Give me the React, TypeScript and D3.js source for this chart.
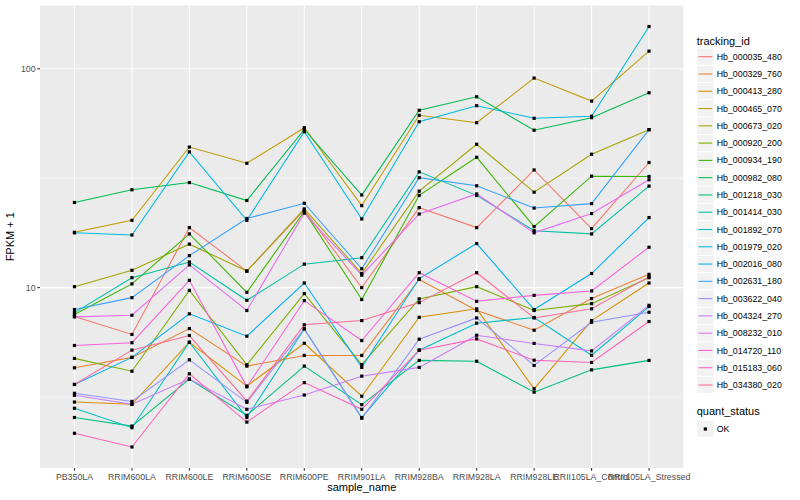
import * as d3 from "d3";

// x categories
const sampleNames = [
  "PB350LA",
  "RRIM600LA",
  "RRIM600LE",
  "RRIM600SE",
  "RRIM600PE",
  "RRIM901LA",
  "RRIM928BA",
  "RRIM928LA",
  "RRIM928LE",
  "RRII105LA_Control",
  "RRII105LA_Stressed",
];

const trackingIds = [
  "Hb_000035_480",
  "Hb_000329_760",
  "Hb_000413_280",
  "Hb_000465_070",
  "Hb_000673_020",
  "Hb_000920_200",
  "Hb_000934_190",
  "Hb_000982_080",
  "Hb_001218_030",
  "Hb_001414_030",
  "Hb_001892_070",
  "Hb_001979_020",
  "Hb_002016_080",
  "Hb_002631_180",
  "Hb_003622_040",
  "Hb_004324_270",
  "Hb_008232_010",
  "Hb_014720_110",
  "Hb_015183_060",
  "Hb_034380_020",
];

// FPKM + 1, one array per gene, in sampleNames order
const hb000035_480 = [7.38, 6.11, 18.8, 11.9, 22.6, 10.0, 23.2, 18.8, 34.5, 18.6, 37.3];
const hb000329_760 = [4.3, 4.8, 6.5, 4.38, 4.9, 4.9, 10.9, 7.86, 6.39, 8.91, 11.5];
const hb000413_280 = [3.0, 2.93, 5.63, 3.55, 5.57, 3.19, 7.32, 8.0, 3.45, 7.07, 10.5];
const hb000465_070 = [17.9, 20.3, 43.9, 37.0, 53.8, 23.7, 61.3, 56.7, 90.7, 71.2, 120.4];
const hb000673_020 = [10.1, 12.0, 15.8, 11.9, 22.9, 11.6, 27.6, 45.2, 27.3, 40.7, 52.7];
const hb000920_200 = [4.75, 4.15, 9.72, 4.44, 9.39, 4.45, 8.88, 10.1, 7.86, 8.45, 11.1];
const hb000934_190 = [7.53, 10.4, 17.6, 9.52, 22.3, 8.82, 26.4, 39.4, 19.0, 32.3, 32.2];
const hb000982_080 = [24.5, 28.0, 30.2, 25.0, 52.8, 26.5, 64.6, 74.5, 52.4, 59.8, 77.7];
const hb001218_030 = [2.55, 2.33, 3.82, 2.61, 4.38, 2.92, 4.65, 4.61, 3.33, 4.21, 4.65];
const hb001414_030 = [7.69, 11.1, 13.1, 8.75, 12.8, 13.7, 33.8, 26.4, 18.2, 17.6, 29.1];
const hb001892_070 = [2.81, 2.29, 5.63, 2.55, 6.48, 2.55, 5.18, 6.88, 7.3, 4.91, 8.19];
const hb001979_020 = [17.8, 17.4, 41.7, 20.3, 51.6, 20.6, 57.3, 67.8, 59.4, 60.7, 156];
const hb002016_080 = [3.61, 4.8, 7.59, 6.0, 10.5, 4.32, 11.0, 15.9, 7.94, 11.6, 20.9];
const hb002631_180 = [7.94, 9.0, 14.0, 20.7, 24.3, 12.2, 31.8, 29.2, 23.1, 24.2, 52.7];
const hb003622_040 = [3.29, 3.02, 4.68, 2.99, 6.48, 2.53, 5.81, 7.27, 4.41, 6.95, 7.72];
const hb004324_270 = [3.22, 2.93, 3.82, 2.78, 3.23, 3.94, 4.32, 6.06, 5.56, 5.14, 8.3];
const hb008232_010 = [7.35, 7.48, 12.7, 7.86, 21.9, 11.4, 21.7, 26.8, 17.8, 21.8, 31.1];
const hb014720_110 = [5.44, 5.6, 10.8, 3.52, 8.72, 5.73, 11.7, 8.66, 9.22, 9.66, 15.3];
const hb015183_060 = [2.16, 1.87, 4.04, 2.43, 3.68, 2.78, 5.18, 5.83, 4.66, 4.55, 7.0];
const hb034380_020 = [3.61, 5.18, 6.04, 3.03, 6.76, 7.07, 8.54, 11.7, 7.27, 8.0, 11.2];

const seriesValues = [
  hb000035_480, hb000329_760, hb000413_280, hb000465_070, hb000673_020,
  hb000920_200, hb000934_190, hb000982_080, hb001218_030, hb001414_030,
  hb001892_070, hb001979_020, hb002016_080, hb002631_180, hb003622_040,
  hb004324_270, hb008232_010, hb014720_110, hb015183_060, hb034380_020,
];

// R's hcl() (polar Luv) so the colours match ggplot's default hue palette
function hcl(h: number, c: number, l: number) {
  const rad = (h * Math.PI) / 180;
  const U = c * Math.cos(rad);
  const V = c * Math.sin(rad);
  const Y = 100 * (l > 7.999592 ? Math.pow((l + 16) / 116, 3) : l / 903.3);
  const u = U / (13 * l) + 0.1978398;
  const v = V / (13 * l) + 0.4683363;
  const X = (9 * Y * u) / (4 * v);
  const Z = -X / 3 - 5 * Y + (3 * Y) / v;
  const g = (x: number) => {
    const y = x > 0.00304 ? 1.055 * Math.pow(x, 1 / 2.4) - 0.055 : 12.92 * x;
    return Math.round(Math.max(0, Math.min(1, y)) * 255);
  };
  const r = g((3.240479 * X - 1.53715 * Y - 0.498535 * Z) / 100);
  const gg = g((-0.969256 * X + 1.875992 * Y + 0.041556 * Z) / 100);
  const b = g((0.055648 * X - 0.204043 * Y + 1.057311 * Z) / 100);
  return d3.rgb(r, gg, b).formatHex();
}

const W = 800;
const H = 500;
const panel = { left: 40, right: 683.5, top: 5.5, bottom: 468 };
const font = "'Liberation Sans', Arial, Helvetica, sans-serif";

export default function App() {
  const n = trackingIds.length;
  const colors = trackingIds.map((_, i) => hcl(15 + (360 / n) * i, 100, 65));

  const x = d3
    .scalePoint<string>()
    .domain(sampleNames)
    .range([panel.left, panel.right])
    .padding(0.6);

  // ggplot: log10 scale with 5% expansion
  const all = seriesValues.flat();
  const lo = Math.log10(d3.min(all)!);
  const hi = Math.log10(d3.max(all)!);
  const pad = (hi - lo) * 0.05;
  const y = d3
    .scaleLog()
    .domain([Math.pow(10, lo - pad), Math.pow(10, hi + pad)])
    .range([panel.bottom, panel.top]);

  const majors = [10, 100];
  const minors = [Math.sqrt(10), Math.sqrt(1000)];

  const line = d3
    .line<number>()
    .x((_, i) => x(sampleNames[i])!)
    .y((d) => y(d));

  const keyX = 696.7;
  const keySize = 17.28;
  const firstKey = 56.7;

  return (
    <svg
      width={W}
      height={H}
      style={{ position: "absolute", left: 0, top: 0 }}
      fontFamily={font}
    >
      <rect width={W} height={H} fill="white" />
      <rect
        x={panel.left}
        y={panel.top}
        width={panel.right - panel.left}
        height={panel.bottom - panel.top}
        fill="#EBEBEB"
      />
      {minors.map((m) => (
        <line
          key={"mn" + m}
          x1={panel.left}
          x2={panel.right}
          y1={y(m)}
          y2={y(m)}
          stroke="white"
          strokeWidth={0.53}
        />
      ))}
      {majors.map((m) => (
        <line
          key={"mj" + m}
          x1={panel.left}
          x2={panel.right}
          y1={y(m)}
          y2={y(m)}
          stroke="white"
          strokeWidth={1.07}
        />
      ))}
      {sampleNames.map((s) => (
        <line
          key={"vx" + s}
          x1={x(s)}
          x2={x(s)}
          y1={panel.top}
          y2={panel.bottom}
          stroke="white"
          strokeWidth={1.07}
        />
      ))}

      {seriesValues.map((vals, i) => (
        <path
          key={"l" + i}
          d={line(vals)!}
          fill="none"
          stroke={colors[i]}
          strokeWidth={1.07}
        />
      ))}
      {seriesValues.map((vals, i) =>
        vals.map((v, j) => (
          <rect
            key={"p" + i + "_" + j}
            x={x(sampleNames[j])! - 1.6}
            y={y(v) - 1.6}
            width={3.2}
            height={3.2}
            fill="black"
          />
        ))
      )}

      {/* axes */}
      {majors.map((m) => (
        <g key={"yt" + m}>
          <line
            x1={panel.left - 2.75}
            x2={panel.left}
            y1={y(m)}
            y2={y(m)}
            stroke="#333333"
            strokeWidth={1.07}
          />
          <text
            x={panel.left - 4.4}
            y={y(m)}
            dy="0.35em"
            textAnchor="end"
            fontSize={8.8}
            fill="#4D4D4D"
          >
            {m}
          </text>
        </g>
      ))}
      {sampleNames.map((s) => (
        <g key={"xt" + s}>
          <line
            x1={x(s)}
            x2={x(s)}
            y1={panel.bottom}
            y2={panel.bottom + 2.75}
            stroke="#333333"
            strokeWidth={1.07}
          />
          <text
            x={x(s)}
            y={panel.bottom + 12}
            textAnchor="middle"
            fontSize={8.8}
            fill="#4D4D4D"
          >
            {s}
          </text>
        </g>
      ))}
      <text
        x={(panel.left + panel.right) / 2}
        y={491}
        textAnchor="middle"
        fontSize={11}
        fill="black"
      >
        sample_name
      </text>
      <text
        transform={`translate(14,${(panel.top + panel.bottom) / 2}) rotate(-90)`}
        textAnchor="middle"
        fontSize={11}
        fill="black"
      >
        FPKM + 1
      </text>

      {/* legend: tracking_id */}
      <text x={keyX} y={44.5} fontSize={11} fill="black">
        tracking_id
      </text>
      {trackingIds.map((id, i) => {
        const cy = firstKey + i * keySize;
        return (
          <g key={"lg" + id}>
            <rect
              x={keyX}
              y={cy - keySize / 2}
              width={keySize}
              height={keySize}
              fill="#F2F2F2"
              stroke="white"
              strokeWidth={1}
            />
            <line
              x1={keyX + 1.7}
              x2={keyX + keySize - 1.7}
              y1={cy}
              y2={cy}
              stroke={colors[i]}
              strokeWidth={1.07}
            />
            <text x={keyX + keySize + 2.75} y={cy} dy="0.35em" fontSize={8.8} fill="black">
              {id}
            </text>
          </g>
        );
      })}

      {/* legend: quant_status */}
      <text x={keyX} y={415} fontSize={11} fill="black">
        quant_status
      </text>
      <rect
        x={keyX}
        y={429 - keySize / 2}
        width={keySize}
        height={keySize}
        fill="#F2F2F2"
        stroke="white"
      />
      <rect x={keyX + keySize / 2 - 1.6} y={429 - 1.6} width={3.2} height={3.2} fill="black" />
      <text x={keyX + keySize + 2.75} y={429} dy="0.35em" fontSize={8.8} fill="black">
        OK
      </text>
    </svg>
  );
}
